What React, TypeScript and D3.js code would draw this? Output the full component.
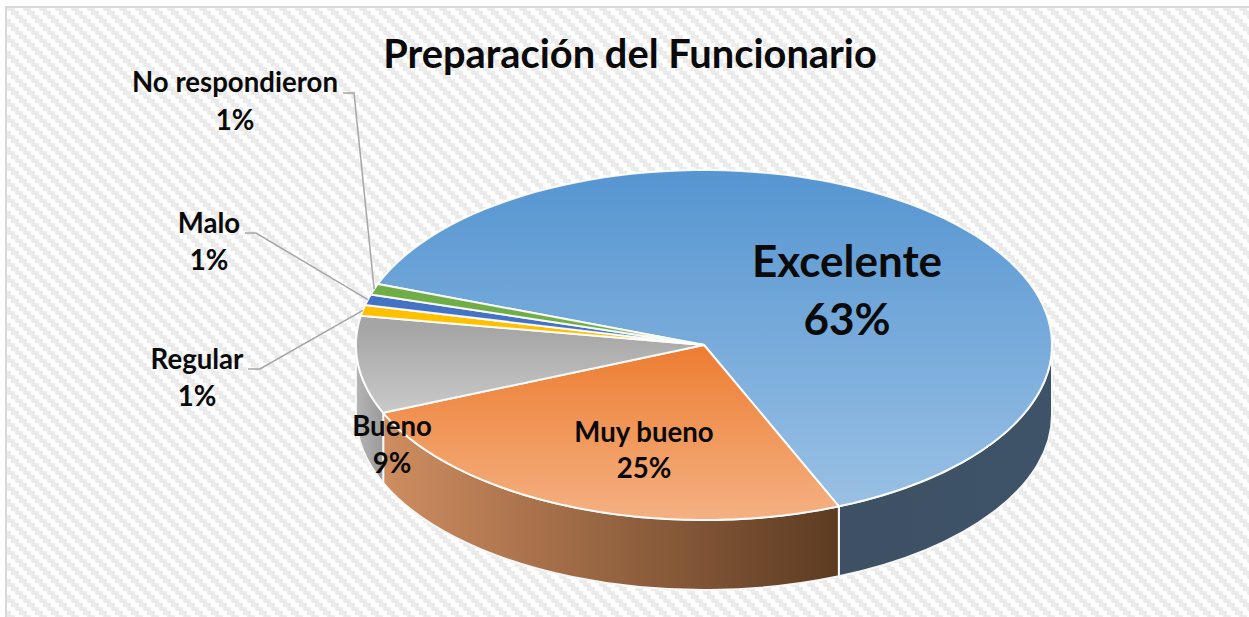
import React from "react";
import * as d3 from "d3";

const categories = ["Excelente", "Muy bueno", "Bueno", "Regular", "Malo", "No respondieron"];
const values = [63, 25, 9, 1, 1, 1];
const percentLabels = ["63%", "25%", "9%", "1%", "1%", "1%"];
const chartTitle = "Preparación del Funcionario";

const topColors = [
  ["#5595d1", "#9cc2e5"],
  ["#ed7d31", "#f4b183"],
  ["#a5a5a5", "#d2d2d2"],
  ["#ffc000", "#ffc000"],
  ["#4472c4", "#4472c4"],
  ["#70ad47", "#70ad47"],
];
const gradStops = [
  [0, 1],
  [0.5, 1],
  [0.45, 0.75],
  [0, 1],
  [0, 1],
  [0, 1],
];
const sideColors = [
  ["#3d5064", "#3f5368"],
  ["#cf8d60", "#5c3b22"],
  ["#b5b5b5", "#9a9a9a"],
  ["#ffc000", "#ffc000"],
  ["#4472c4", "#4472c4"],
  ["#70ad47", "#70ad47"],
];

const W = 1249, H = 617;
const cx = 704, cy = 345, rx = 348, ry = 175, depth = 70;
const FONT = "Lato, Carlito, Calibri, sans-serif";

const labelLayout = [
  { x: 847, y: 277, size: 44, dy: 58, anchor: null },
  { x: 644, y: 442, size: 27.6, dy: 36, anchor: null },
  { x: 392, y: 436, size: 27.6, dy: 37, anchor: null },
  { x: 197, y: 369, size: 27.6, dy: 37, anchor: [[248, 369], [260, 369]] },
  { x: 209, y: 233, size: 27.6, dy: 37, anchor: [[245, 233], [256, 233]] },
  { x: 235, y: 92, size: 27.6, dy: 38, anchor: [[343, 93], [354, 93]] },
];

const startDeg = 290.4;
const pieGen = d3
  .pie<number>()
  .sort(null)
  .startAngle((startDeg * Math.PI) / 180)
  .endAngle(((startDeg + 360) * Math.PI) / 180);
const arcs = pieGen(values);

const px = (a: number) => cx + rx * Math.sin(a);
const py = (a: number) => cy - ry * Math.cos(a);

// Front wall: visible only between 3 o'clock and 9 o'clock
const frontLo = Math.PI / 2;
const frontHi = (3 * Math.PI) / 2;
const sides = arcs.map((a, i) => {
  let best: { lo: number; hi: number; d: string } | null = null;
  [0, -2 * Math.PI].forEach((shift) => {
    const lo = Math.max(a.startAngle + shift, frontLo);
    const hi = Math.min(a.endAngle + shift, frontHi);
    if (hi > lo) {
      best = {
        lo,
        hi,
        d: `M${px(lo)},${py(lo)} A${rx},${ry} 0 0 1 ${px(hi)},${py(hi)} L${px(hi)},${py(hi) + depth} A${rx},${ry} 0 0 0 ${px(lo)},${py(lo) + depth} Z`,
      };
    }
  });
  return { i, side: best as { lo: number; hi: number; d: string } | null };
});

const stair = d3.range(4);
const wedgeSteps = 90;

export default function App() {
  return (
    <svg
      width={W}
      height={H}
      viewBox={`0 0 ${W} ${H}`}
      style={{ position: "fixed", left: 0, top: 0, display: "block", background: "#fff" }}
    >
      <defs>
        <pattern id="bg" width={16} height={16} patternUnits="userSpaceOnUse" x={7} y={7}>
          {stair.map((s) => (
            <g key={s} fill="#ebebeb">
              <rect x={s * 4} y={s * 4} width={8} height={4} />
              <rect x={s * 4 - 16} y={s * 4} width={8} height={4} />
            </g>
          ))}
        </pattern>
        {topColors.map((c, i) => (
          <linearGradient key={i} id={`top${i}`} gradientUnits="userSpaceOnUse" x1={0} x2={0} y1={cy - ry} y2={cy + ry}>
            <stop offset={gradStops[i][0]} stopColor={c[0]} />
            <stop offset={gradStops[i][1]} stopColor={c[1]} />
          </linearGradient>
        ))}
        {sides.map(({ i, side }) =>
          side ? (
            <linearGradient
              key={i}
              id={`side${i}`}
              gradientUnits="userSpaceOnUse"
              x1={Math.min(px(side.lo), px(side.hi))}
              x2={Math.max(px(side.lo), px(side.hi))}
              y1={0}
              y2={0}
            >
              <stop offset={0} stopColor={sideColors[i][0]} />
              <stop offset={1} stopColor={sideColors[i][1]} />
            </linearGradient>
          ) : null
        )}
      </defs>

      <rect x={6} y={7} width={W + 10} height={H + 10} fill="url(#bg)" stroke="#d9d9d9" strokeWidth={2} />

      {sides.map(({ i, side }) =>
        side ? (
          <path key={i} d={side.d} fill={`url(#side${i})`} stroke="#f6f6f6" strokeWidth={2} strokeLinejoin="round" />
        ) : null
      )}

      {arcs.map((a, i) => {
        const pts = d3.range(0, wedgeSteps + 1).map((t) => {
          const ang = a.startAngle + ((a.endAngle - a.startAngle) * t) / wedgeSteps;
          return [px(ang), py(ang)] as [number, number];
        });
        const d = `M${cx},${cy}L` + pts.map((p) => p.join(",")).join("L") + "Z";
        return <path key={i} d={d} fill={`url(#top${i})`} stroke="#fff" strokeOpacity={0.9} strokeWidth={2} strokeLinejoin="round" />;
      })}

      {labelLayout.map((l, i) => {
        if (!l.anchor) return null;
        const mid = (arcs[i].startAngle + arcs[i].endAngle) / 2;
        return (
          <polyline
            key={i}
            points={[...l.anchor, [px(mid), py(mid)]].map((p) => p.join(",")).join(" ")}
            fill="none"
            stroke="#a6a6a6"
            strokeWidth={1.5}
          />
        );
      })}

      <text x={630} y={68} textAnchor="middle" fontFamily={FONT} fontWeight={700} fontSize={39.8} fill="#0a0a0a">
        {chartTitle}
      </text>

      {labelLayout.map((l, i) => (
        <text key={i} textAnchor="middle" fontFamily={FONT} fontWeight={700} fontSize={l.size} fill="#0a0a0a">
          <tspan x={l.x} y={l.y}>{categories[i]}</tspan>
          <tspan x={l.x} y={l.y + l.dy}>{percentLabels[i]}</tspan>
        </text>
      ))}
    </svg>
  );
}
